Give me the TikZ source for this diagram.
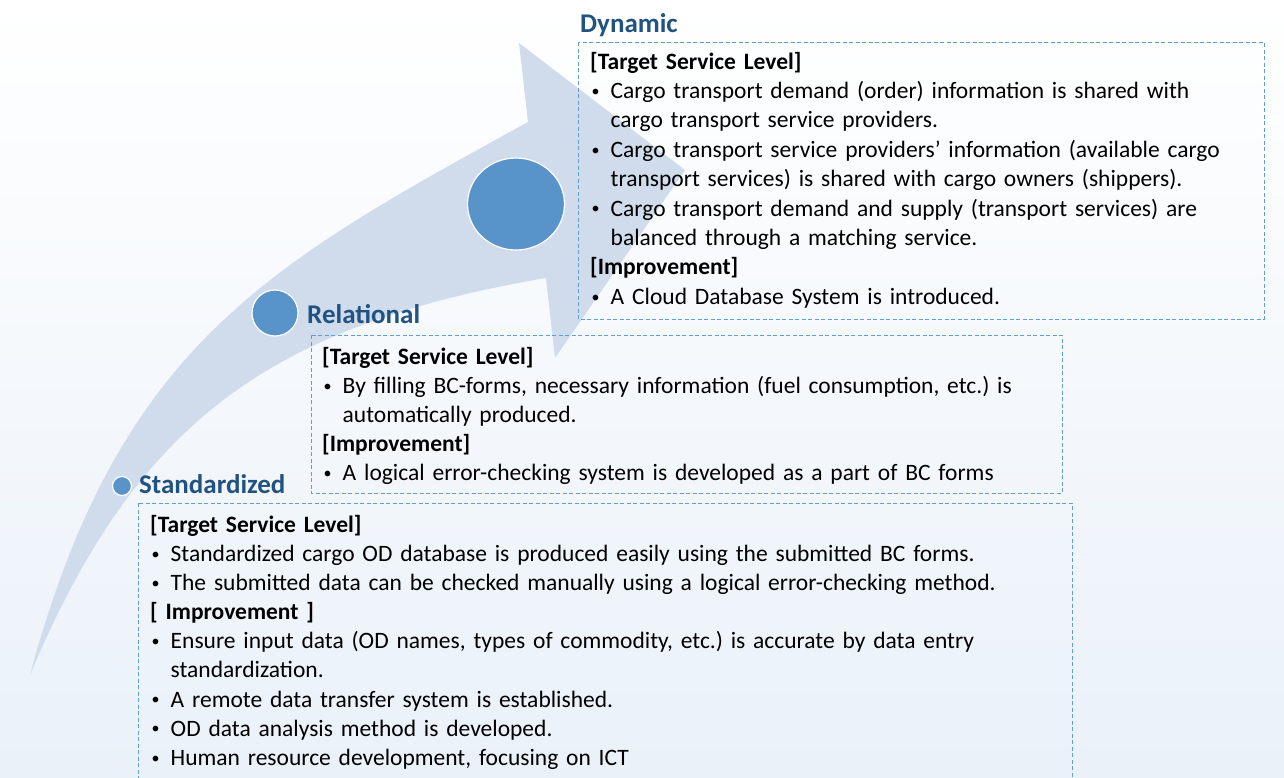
\documentclass[tikz,border=0pt]{standalone}
\usepackage{fontspec}
\setmainfont{Carlito}

\definecolor{arrowfill}{RGB}{208,220,236}
\definecolor{dotfill}{RGB}{88,148,201}
\definecolor{headblue}{RGB}{33,82,128}
\definecolor{boxline}{RGB}{98,158,214}
\definecolor{bgbottom}{RGB}{234,241,249}

% list helpers: bold heading line and bullet item with hanging indent
\newcommand{\hdr}[1]{\par\noindent\textbf{#1}}
\newcommand{\smallbullet}{\hspace{1.5pt}\raisebox{2.2pt}{\fontsize{16}{16}\selectfont •}}
\newcommand{\itm}[1]{\par\hangindent=20.5pt\hangafter=1\noindent\makebox[20.5pt][l]{\smallbullet}#1}

\tikzset{
  stagelabel/.style={font=\fontsize{27}{32}\selectfont\bfseries, text=headblue,
    anchor=base west, inner sep=0pt},
  textblock/.style={anchor=north west, inner sep=0pt, text width=900pt,
    font=\fontsize{23.5}{#1}\selectfont},
  dashbox/.style={draw=boxline, line width=1pt, dash pattern=on 4pt off 2.5pt},
  stagedot/.style={fill=dotfill, draw=white, line width=1.2pt}
}

\begin{document}
\frenchspacing
\begin{tikzpicture}[x=1pt,y=-1pt]
  \clip (0,0) rectangle (1284,777);
  % background
  \shade[top color=white, bottom color=bgbottom] (0,0) rectangle (1284,777);

  % curved progress arrow
  \fill[arrowfill] (30,675) .. controls (119,345) and (268,265) .. (528,122)
    -- (519,43) -- (685,170) -- (555,358) -- (546,278)
    .. controls (266,326) and (135,425) .. (30,675) -- cycle;

  % stage markers
  \filldraw[stagedot] (516,204) ellipse [x radius=48.5, y radius=46];
  \filldraw[stagedot] (275,313) circle [radius=23];
  \filldraw[stagedot] (122,486) circle [radius=9.5];

  % stage titles
  \node[stagelabel] (dyn) at (580,32) {Dynamic};
  \node[stagelabel] (rel) at (307,323) {Relational};
  \node[stagelabel] (std) at (139,493) {Standardized};

  % dashed frames
  \draw[dashbox] (578,42) rectangle (1264,319);
  \draw[dashbox] (311,335) rectangle (1062,493);
  \draw[dashbox] (138,503) rectangle (1072,800);

  % frame contents
  \node[textblock=29.4] (dyntext) at (590,39.4) {\raggedright
    \hdr{\strut[Target Service Level]}
    \itm{Cargo transport demand (order) information is shared with\newline cargo transport service providers.}
    \itm{Cargo transport service providers’ information (available cargo\newline transport services) is shared with cargo owners (shippers).}
    \itm{Cargo transport demand and supply (transport services) are\newline balanced through a matching service.}
    \hdr{[Improvement]}
    \itm{A Cloud Database System is introduced.}\par};

  \node[textblock=29.1] (reltext) at (322,335.1) {\raggedright
    \hdr{\strut[Target Service Level]}
    \itm{By filling BC-forms, necessary information (fuel consumption, etc.) is\newline automatically produced.}
    \hdr{[Improvement]}
    \itm{A logical error-checking system is developed as a part of BC forms}\par};

  \node[textblock=29.1] (stdtext) at (150,503.1) {\raggedright
    \hdr{\strut[Target Service Level]}
    \itm{Standardized cargo OD database is produced easily using the submitted BC forms.}
    \itm{The submitted data can be checked manually using a logical error-checking method.}
    \hdr{[ Improvement ]}
    \itm{Ensure input data (OD names, types of commodity, etc.) is accurate by data entry\newline standardization.}
    \itm{A remote data transfer system is established.}
    \itm{OD data analysis method is developed.}
    \itm{Human resource development, focusing on ICT}\par};
\end{tikzpicture}
\end{document}
